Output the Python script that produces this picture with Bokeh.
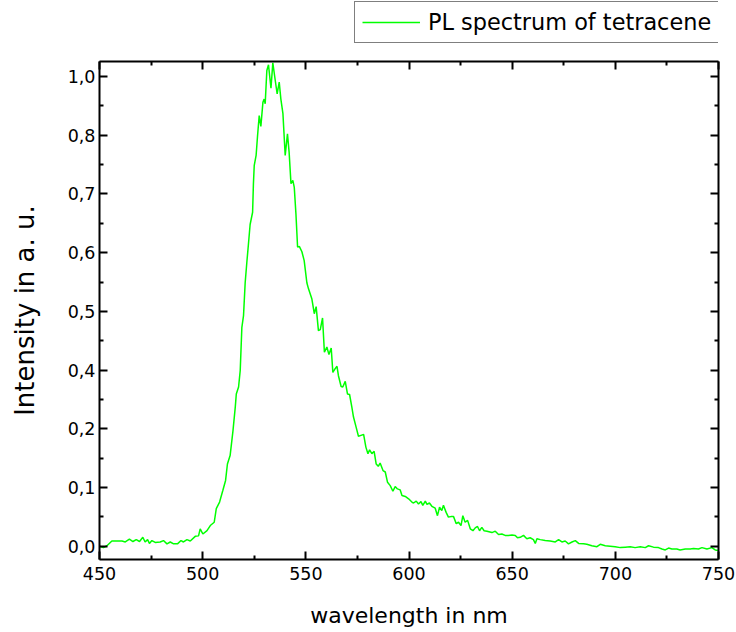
from bokeh.plotting import figure
from bokeh.layouts import column
from bokeh.models import (Range1d, FixedTicker, LinearAxis, Legend, LegendItem,
                          CustomLabelingPolicy)
from bokeh.embed import file_html
from bokeh.resources import INLINE

# PL spectrum of tetracene
wavelength = [450.0, 451.9, 453.6, 456.0, 460.9, 462.5, 464.5, 466.2, 467.8, 469.4,
              471.0, 472.1, 473.3, 474.2, 475.4, 477.0, 479.4, 481.0, 482.7, 484.3,
              485.9, 487.8, 489.5, 490.7, 492.4, 494.0, 496.4, 498.0, 498.8, 500.1,
              502.1, 503.7, 505.6, 506.6, 508.2, 509.8, 511.1, 512.0, 513.3, 514.7,
              515.8, 516.3, 517.4, 518.2, 519.0, 519.8, 520.6, 521.4, 522.2, 523.0,
              524.2, 524.6, 525.0, 525.9, 526.6, 527.4, 528.2, 529.2, 529.8, 530.3,
              531.1, 531.9, 533.1, 534.0, 535.2, 536.1, 537.1, 537.9, 538.9, 540.0,
              541.1, 541.9, 542.8, 543.7, 544.4, 545.2, 546.0, 546.9, 548.1, 549.2,
              550.5, 551.3, 552.9, 554.1, 555.0, 556.1, 557.0, 558.1, 559.0, 560.2,
              561.2, 562.3, 563.1, 564.2, 565.1, 565.8, 567.1, 567.9, 569.1, 570.2,
              571.2, 572.3, 573.1, 574.4, 575.5, 576.7, 578.0, 579.1, 580.1, 580.9,
              582.0, 583.1, 584.1, 585.1, 586.0, 587.4, 588.5, 589.6, 590.9, 592.2,
              593.3, 594.4, 595.7, 596.6, 598.2, 599.8, 601.4, 602.2, 603.5, 604.6,
              605.8, 606.7, 607.9, 608.7, 609.9, 611.1, 612.7, 613.8, 614.8, 615.9,
              616.7, 618.0, 619.1, 620.3, 621.6, 622.9, 624.0, 625.2, 626.1, 627.2,
              628.4, 629.7, 631.0, 632.1, 633.2, 634.2, 635.3, 636.4, 637.8, 640.2,
              641.8, 643.4, 645.0, 646.6, 648.2, 649.9, 651.5, 652.6, 653.9, 655.5,
              657.1, 658.7, 660.3, 661.2, 662.0, 663.6, 666.0, 668.4, 670.9, 672.5,
              674.1, 675.7, 677.3, 679.0, 680.6, 682.2, 684.6, 686.2, 688.6, 691.1,
              692.7, 695.1, 697.5, 699.9, 702.4, 704.8, 707.2, 709.6, 712.1, 714.5,
              716.1, 718.5, 720.9, 722.6, 724.2, 725.8, 727.4, 729.8, 731.4, 733.9,
              736.3, 737.9, 740.3, 742.0, 744.4, 746.8, 748.4, 750.0]

intensity = [0.000, -0.003, 0.001, 0.011, 0.011, 0.009, 0.015, 0.010, 0.014, 0.010,
             0.019, 0.009, 0.014, 0.006, 0.012, 0.008, 0.009, 0.012, 0.005, 0.009,
             0.005, 0.005, 0.012, 0.009, 0.014, 0.011, 0.021, 0.022, 0.037, 0.026,
             0.033, 0.044, 0.051, 0.080, 0.094, 0.119, 0.140, 0.175, 0.193, 0.246,
             0.296, 0.324, 0.339, 0.374, 0.466, 0.491, 0.561, 0.604, 0.644, 0.685,
             0.711, 0.772, 0.811, 0.832, 0.874, 0.917, 0.894, 0.945, 0.952, 0.942,
             1.013, 1.025, 0.975, 1.029, 0.991, 0.963, 0.988, 0.952, 0.921, 0.832,
             0.878, 0.839, 0.772, 0.779, 0.764, 0.708, 0.637, 0.638, 0.627, 0.608,
             0.561, 0.548, 0.527, 0.495, 0.510, 0.459, 0.461, 0.486, 0.413, 0.424,
             0.408, 0.422, 0.370, 0.378, 0.383, 0.363, 0.340, 0.339, 0.351, 0.324,
             0.323, 0.296, 0.275, 0.253, 0.234, 0.236, 0.238, 0.211, 0.197, 0.205,
             0.197, 0.202, 0.175, 0.170, 0.177, 0.161, 0.158, 0.136, 0.129, 0.117,
             0.127, 0.122, 0.120, 0.108, 0.106, 0.101, 0.094, 0.092, 0.096, 0.090,
             0.095, 0.087, 0.096, 0.089, 0.092, 0.085, 0.081, 0.065, 0.083, 0.076,
             0.087, 0.072, 0.062, 0.063, 0.063, 0.048, 0.051, 0.044, 0.065, 0.051,
             0.055, 0.037, 0.033, 0.039, 0.042, 0.033, 0.040, 0.033, 0.032, 0.029,
             0.032, 0.025, 0.026, 0.023, 0.023, 0.024, 0.023, 0.018, 0.019, 0.023,
             0.016, 0.018, 0.014, 0.006, 0.016, 0.014, 0.012, 0.011, 0.009, 0.014,
             0.009, 0.011, 0.005, 0.009, 0.012, 0.006, 0.005, 0.004, 0.001, -0.001,
             0.004, 0.001, 0.000, -0.001, -0.003, -0.002, -0.001, -0.003, -0.001, -0.003,
             0.001, -0.002, -0.003, -0.006, -0.008, -0.004, -0.006, -0.006, -0.008, -0.006,
             -0.006, -0.005, -0.006, -0.003, -0.006, -0.003, -0.008, -0.009]

x_ticks = [450, 500, 550, 600, 650, 700, 750]
x_minor_ticks = [475, 525, 575, 625, 675, 725]
y_ticks = [0.0, 0.125, 0.25, 0.375, 0.5, 0.625, 0.75, 0.875, 1.0]
y_tick_labels = ["0,0", "0,1", "0,2", "0,4", "0,5", "0,6", "0,7", "0,8", "1,0"]
y_minor_ticks = [0.0625, 0.1875, 0.3125, 0.4375, 0.5625, 0.6875, 0.8125, 0.9375]

series_label = "PL spectrum of tetracene"
x_title = "wavelength in nm"
y_title = "Intensity in a. u."

FONT = "DejaVu Sans"
LINE_GREEN = "#00FF00"
X_RANGE = (450, 750)
Y_RANGE = (-0.0283, 1.032)

# ---- main plot -------------------------------------------------------------
p = figure(width=736, height=575, output_backend="svg", toolbar_location=None,
           x_range=Range1d(*X_RANGE), y_range=Range1d(*Y_RANGE),
           x_axis_type=None, y_axis_type=None,
           min_border_left=99, min_border_right=18, min_border_top=4, min_border_bottom=73)
p.xgrid.visible = False
p.ygrid.visible = False
p.outline_line_color = None
p.background_fill_color = "white"
p.border_fill_color = "white"

xt = FixedTicker(ticks=x_ticks, minor_ticks=x_minor_ticks)
yt = FixedTicker(ticks=y_ticks, minor_ticks=y_minor_ticks)

no_labels = CustomLabelingPolicy(code="""
for (const i of indices) { indices.unset(i) }
return indices
""")


def style(ax, show_labels):
    ax.axis_line_width = 2
    ax.axis_line_color = "black"
    ax.major_tick_line_width = 2
    ax.minor_tick_line_width = 2
    ax.major_tick_in = 8
    ax.major_tick_out = 0
    ax.minor_tick_in = 4
    ax.minor_tick_out = 0
    ax.major_label_text_font = FONT
    ax.axis_label_text_font = FONT
    ax.axis_label_text_font_style = "normal"
    ax.major_label_text_color = "black"
    ax.axis_label_text_color = "black"
    if show_labels:
        ax.major_label_text_font_size = "17.5px"
        ax.axis_label_text_font_size = "22px"
    else:
        ax.major_label_text_font_size = "0px"
        ax.major_label_standoff = 0
        ax.major_label_policy = no_labels


xb = LinearAxis(ticker=xt, axis_label=x_title)
style(xb, True)
xb.major_label_standoff = 7
xb.axis_label_standoff = 20
p.add_layout(xb, "below")

yl = LinearAxis(ticker=yt, axis_label=y_title,
                major_label_overrides={v: s for v, s in zip(y_ticks, y_tick_labels)})
style(yl, True)
yl.axis_label_text_font_size = "26px"
yl.major_label_standoff = 4
yl.axis_label_standoff = 25
p.add_layout(yl, "left")

xa = LinearAxis(ticker=xt)
style(xa, False)
p.add_layout(xa, "above")

yr = LinearAxis(ticker=yt)
style(yr, False)
p.add_layout(yr, "right")

r = p.line(wavelength, intensity, line_color=LINE_GREEN, line_width=1.5)

# ---- legend strip above the plot --------------------------------------------
top = figure(width=736, height=57, output_backend="svg", toolbar_location=None,
             x_range=Range1d(*X_RANGE), y_range=Range1d(*Y_RANGE),
             x_axis_type=None, y_axis_type=None,
             min_border_left=0, min_border_right=0, min_border_top=0, min_border_bottom=0)
top.xgrid.visible = False
top.ygrid.visible = False
top.outline_line_color = None
top.background_fill_color = "white"
top.border_fill_color = "white"
r_key = top.line(wavelength, intensity, line_color=LINE_GREEN, line_width=1.5, visible=False)

legend = Legend(items=[LegendItem(label=series_label, renderers=[r_key])],
                location=(255, 14), orientation="vertical", click_policy="none",
                label_text_font=FONT, label_text_font_size="22.4px",
                label_text_color="black",
                glyph_width=58, glyph_height=20, label_standoff=8,
                padding=7, margin=0, spacing=0,
                border_line_color="black", border_line_width=1,
                background_fill_color="white", background_fill_alpha=1,
                inactive_fill_alpha=0)
top.add_layout(legend, "center")

layout = column(top, p, spacing=0)
open("out.html", "w").write(file_html(layout, INLINE))
